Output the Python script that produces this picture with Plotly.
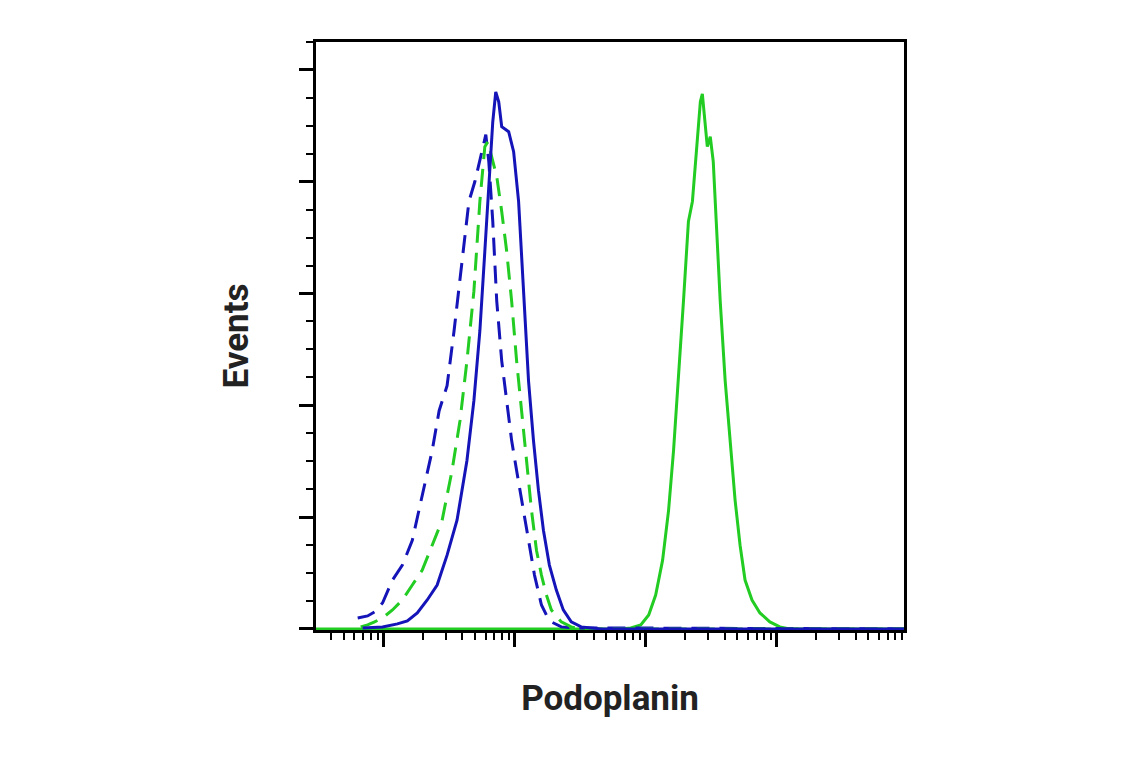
import plotly.graph_objects as go

def conv(pts):
    xs = [10 ** ((px - 381) / 132 + 1) for px, py in pts]
    ys = [(629 - py) / 112.2 for px, py in pts]
    return xs, ys

blue_solid = [(360,628),(380,627),(395,624),(405,621),(415,613),(425,600),(435,585),(445,555),(455,520),(465,460),(472,400),(478,330),(483,250),(487,180),(491,120),(494,90),(497,100),(500,125),(507,130),(512,150),(517,200),(522,290),(527,380),(532,440),(537,490),(542,530),(548,565),(555,590),(562,610),(570,622),(580,627),(590,628),(600,629),(905,629)]
blue_dash = [(355,618),(365,616),(372,612),(380,603),(390,580),(400,565),(410,540),(420,495),(430,450),(437,410),(445,385),(452,330),(460,260),(467,200),(473,180),(478,160),(484,133),(487,160),(491,220),(495,300),(500,360),(505,400),(510,440),(515,470),(520,500),(527,540),(533,575),(540,605),(545,615),(550,622),(560,627),(575,628),(905,629)]
green_dash = [(358,627),(365,625),(372,622),(380,618),(390,610),(400,600),(410,585),(420,570),(430,545),(440,520),(450,470),(458,420),(465,360),(472,290),(478,200),(483,145),(486,140),(490,155),(495,175),(500,210),(505,250),(510,300),(515,360),(520,410),(525,460),(530,510),(535,550),(540,575),(545,595),(550,610),(560,622),(570,627),(580,629),(905,629)]
green_solid = [(313,629),(620,629),(630,628),(640,625),(648,615),(655,595),(662,560),(668,510),(673,450),(678,380),(683,300),(688,220),(692,200),(696,150),(700,100),(702,92),(705,120),(707,145),(710,135),(713,160),(716,220),(720,300),(725,380),(730,440),(735,500),(740,545),(745,580),(752,600),(760,613),(770,622),(780,627),(790,629),(905,629)]

BLUE = "#1414b8"
GREEN = "#22cc22"

fig = go.Figure()
for pts, col, dash in [(green_solid, GREEN, "solid"), (blue_dash, BLUE, "18px,10px"),
                       (green_dash, GREEN, "18px,10px"), (blue_solid, BLUE, "solid")]:
    x, y = conv(pts)
    fig.add_trace(go.Scatter(x=x, y=y, mode="lines",
                             line=dict(color=col, width=3, dash=dash), showlegend=False))

majors = [10, 100, 1000, 10000]
minors = [m * d for d in [1, 10, 100, 1000, 10000] for m in range(2, 10)]
fig.update_layout(
    width=1141, height=768, plot_bgcolor="white", paper_bgcolor="white",
    margin=dict(l=308, r=245, t=34, b=146),
    font=dict(family="Liberation Sans Narrow, Roboto", color="#222"),
    xaxis=dict(type="log", range=[0.485, 4.97], showgrid=False, zeroline=False,
               tickmode="array", tickvals=majors, showticklabels=False,
               ticks="outside", ticklen=14, tickwidth=3, tickcolor="black",
               minor=dict(tickmode="array", tickvals=minors, ticks="outside",
                          ticklen=7, tickwidth=2, tickcolor="black"),
               showline=True, linewidth=3, linecolor="black", mirror=True,
               title=dict(text="<b>Podoplanin</b>", font=dict(size=35), standoff=40)),
    yaxis=dict(range=[-0.01, 5.25], showgrid=False, zeroline=False,
               tickmode="array", tickvals=[0, 1, 2, 3, 4, 5], showticklabels=False,
               ticks="outside", ticklen=14, tickwidth=3, tickcolor="black",
               minor=dict(dtick=0.25, ticks="outside", ticklen=7, tickwidth=2, tickcolor="black"),
               showline=True, linewidth=3, linecolor="black", mirror=True,
               title=dict(text="<b>Events</b>", font=dict(size=35), standoff=40)),
)
fig.write_html("out.html")
